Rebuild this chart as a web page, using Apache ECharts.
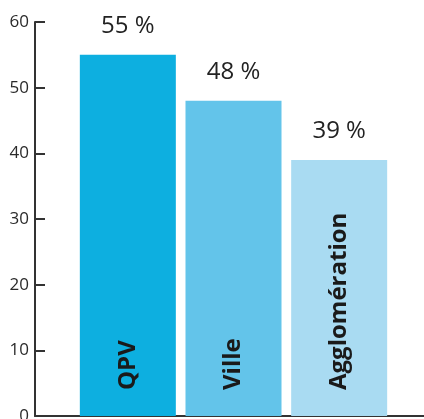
<!DOCTYPE html>
<html>
<head>
<meta charset="utf-8">
<script src="https://cdn.jsdelivr.net/npm/echarts@6/dist/echarts.min.js"></script>
<style>
  html, body { margin: 0; padding: 0; background: #fff; }
  #chart { width: 424px; height: 419px; }
</style>
</head>
<body>
<div id="chart"></div>
<script>
// Part (in %) by territory
const categories = ['QPV', 'Ville', 'Agglomération'];
const values = [55, 48, 39];
const barColors = ['#0dafe0', '#63c4ea', '#a9dbf2'];
const yTicks = [0, 10, 20, 30, 40, 50, 60];

const axisColor = '#333333';
const fontFamily = '"Open Sans", "Noto Sans", sans-serif';

const chart = echarts.init(document.getElementById('chart'), null, { renderer: 'canvas' });

chart.setOption({
  animation: false,
  grid: [
    { left: 75, right: 32, top: 22, bottom: 3, containLabel: false, outerBoundsMode: 'none' },
    // wider grid used only to draw the full-length baseline
    { left: 35, right: 0, top: 22, bottom: 3, containLabel: false, outerBoundsMode: 'none' }
  ],
  xAxis: [
    {
      type: 'category',
      gridIndex: 0,
      data: categories,
      axisLine: { show: false },
      axisTick: { show: false },
      axisLabel: { show: false },
      splitLine: { show: false }
    },
    {
      type: 'value',
      gridIndex: 1,
      min: 0,
      max: 1,
      axisLine: { show: true, lineStyle: { color: axisColor, width: 2 } },
      axisTick: { show: false },
      axisLabel: { show: false },
      splitLine: { show: false }
    }
  ],
  yAxis: [
    {
      type: 'value',
      gridIndex: 0,
      min: yTicks[0],
      max: yTicks[yTicks.length - 1],
      interval: 10,
      offset: 40,
      axisLine: { show: true, lineStyle: { color: axisColor, width: 2 } },
      axisTick: { show: true, inside: true, length: 10, lineStyle: { color: axisColor, width: 2 } },
      axisLabel: {
        color: '#2a2a2a',
        fontSize: 17,
        fontFamily: fontFamily,
        margin: 6
      },
      splitLine: { show: false }
    },
    {
      type: 'value',
      gridIndex: 1,
      show: false
    }
  ],
  series: [
    {
      type: 'bar',
      xAxisIndex: 0,
      yAxisIndex: 0,
      barWidth: 96,
      data: values.map((v, i) => ({ value: v, itemStyle: { color: barColors[i] } })),
      label: {
        show: true,
        position: 'top',
        distance: 17,
        formatter: (p) => p.value + ' %',
        color: '#222222',
        fontSize: 24,
        fontWeight: 'normal',
        fontFamily: fontFamily
      }
    },
    {
      // category names written inside the bars
      type: 'bar',
      xAxisIndex: 0,
      yAxisIndex: 0,
      barWidth: 96,
      barGap: '-100%',
      silent: true,
      itemStyle: { color: 'transparent' },
      data: values,
      label: {
        show: true,
        position: 'insideBottom',
        rotate: 90,
        align: 'left',
        verticalAlign: 'middle',
        distance: 26,
        formatter: (p) => p.name,
        color: '#1a1a1a',
        fontSize: 24,
        fontWeight: 'bold',
        fontFamily: fontFamily
      }
    }
  ]
});
</script>
</body>
</html>
